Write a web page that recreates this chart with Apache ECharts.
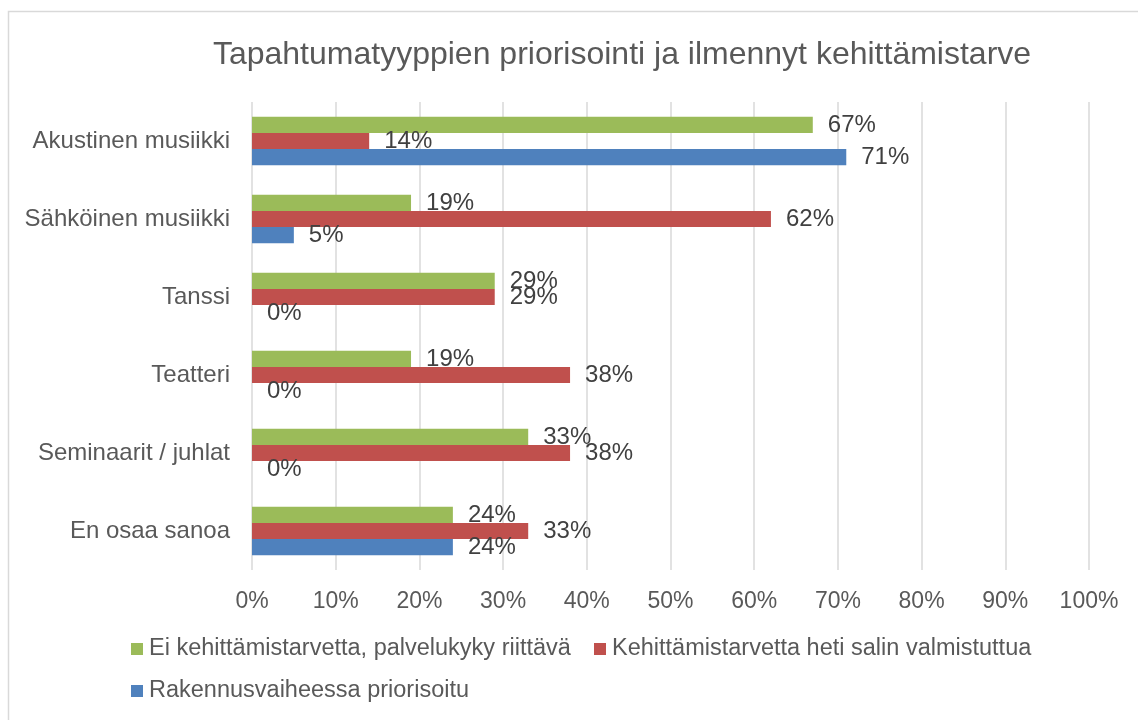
<!DOCTYPE html>
<html>
<head>
<meta charset="utf-8">
<script src="https://cdn.jsdelivr.net/npm/echarts@6/dist/echarts.min.js"></script>
<style>
html,body{margin:0;padding:0;background:#fff;}
#main{width:1138px;height:720px;}
</style>
</head>
<body>
<div id="main"></div>
<script>
const titleText = 'Tapahtumatyyppien priorisointi ja ilmennyt kehittämistarve';
const categories = ['Akustinen musiikki', 'Sähköinen musiikki', 'Tanssi', 'Teatteri', 'Seminaarit / juhlat', 'En osaa sanoa'];
const seriesNames = ['Ei kehittämistarvetta, palvelukyky riittävä', 'Kehittämistarvetta heti salin valmistuttua', 'Rakennusvaiheessa priorisoitu'];
const greenValues = [67, 19, 29, 19, 33, 24];
const redValues = [14, 62, 29, 38, 38, 33];
const blueValues = [71, 5, 0, 0, 0, 24];
const tickLabels = ['0%', '10%', '20%', '30%', '40%', '50%', '60%', '70%', '80%', '90%', '100%'];
const colors = ['#9BBB59', '#C0504D', '#4F81BD'];

const FONT = '"Liberation Sans", Arial, sans-serif';
const chart = echarts.init(document.getElementById('main'), null, {renderer: 'canvas'});

function mkSeries(name, data, color) {
  return {
    name: name,
    type: 'bar',
    data: data,
    barGap: '0%',
    barCategoryGap: '38%',
    itemStyle: {color: color},
    label: {
      show: true,
      position: 'right',
      distance: 15,
      formatter: '{c}%',
      color: '#404040',
      fontSize: 24,
      fontFamily: FONT
    },
    emphasis: {disabled: true},
    animation: false
  };
}

function mkLegend(name, left, top) {
  return {
    data: [name],
    left: left,
    top: top,
    padding: 0,
    itemWidth: 12,
    itemHeight: 12,
    itemGap: 0,
    icon: 'rect',
    textStyle: {fontSize: 23.5, color: '#595959', fontFamily: FONT, padding: [0, 0, 0, 1]},
    selectedMode: false
  };
}

const option = {
  backgroundColor: '#ffffff',
  animation: false,
  title: {
    text: titleText,
    left: 617,
    top: 34,
    textAlign: 'center',
    textStyle: {fontSize: 32, fontWeight: 'normal', color: '#595959', fontFamily: FONT}
  },
  graphic: [{
    type: 'rect',
    shape: {x: 8.5, y: 11.5, width: 1160, height: 760},
    style: {fill: 'none', stroke: '#d9d9d9', lineWidth: 1.5},
    silent: true
  }],
  legend: [
    mkLegend(seriesNames[0], 131, 637),
    mkLegend(seriesNames[1], 594, 637),
    mkLegend(seriesNames[2], 131, 679)
  ],
  grid: {left: 252, right: 49, top: 102, height: 468, containLabel: false},
  xAxis: {
    type: 'value',
    min: 0,
    max: 100,
    interval: 10,
    axisLine: {show: false},
    axisTick: {show: false},
    splitLine: {show: true, lineStyle: {color: '#d9d9d9', width: 1.5}},
    axisLabel: {
      margin: 20,
      fontSize: 23,
      color: '#595959',
      fontFamily: FONT,
      formatter: function (v) { return tickLabels[Math.round(v / 10)]; }
    }
  },
  yAxis: {
    type: 'category',
    data: categories,
    inverse: true,
    axisLine: {show: false},
    axisTick: {show: false},
    axisLabel: {margin: 22, fontSize: 24, color: '#595959', fontFamily: FONT}
  },
  series: [
    mkSeries(seriesNames[0], greenValues, colors[0]),
    mkSeries(seriesNames[1], redValues, colors[1]),
    mkSeries(seriesNames[2], blueValues, colors[2])
  ]
};
chart.setOption(option);
</script>
</body>
</html>
